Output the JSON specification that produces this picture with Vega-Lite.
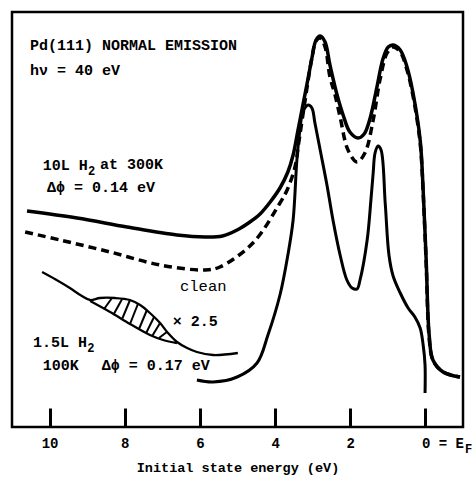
{
  "$schema": "https://vega.github.io/schema/vega-lite/v6.json",
  "width": 451,
  "height": 415,
  "autosize": {"type": "none"},
  "padding": {"left": 12, "top": 12, "right": 12, "bottom": 50},
  "background": "white",
  "config": {
    "view": {"stroke": "black", "strokeWidth": 2.5},
    "text": {"font": "Liberation Mono", "fontWeight": "bold", "fontSize": 15, "align": "left", "baseline": "middle", "color": "black"}
  },
  "datasets": {
    "curves": [
      {"s": "h300", "i": 1, "E": 10.60, "I": 216}, {"s": "h300", "i": 2, "E": 9.27, "I": 209}, {"s": "h300", "i": 3, "E": 7.94, "I": 200}, {"s": "h300", "i": 4, "E": 6.61, "I": 192}, {"s": "h300", "i": 5, "E": 5.86, "I": 190}, {"s": "h300", "i": 6, "E": 5.40, "I": 191}, {"s": "h300", "i": 7, "E": 5.01, "I": 197}, {"s": "h300", "i": 8, "E": 4.67, "I": 205}, {"s": "h300", "i": 9, "E": 4.40, "I": 213}, {"s": "h300", "i": 10, "E": 4.13, "I": 225}, {"s": "h300", "i": 11, "E": 3.87, "I": 239}, {"s": "h300", "i": 12, "E": 3.66, "I": 255}, {"s": "h300", "i": 13, "E": 3.52, "I": 272}, {"s": "h300", "i": 14, "E": 3.39, "I": 297}, {"s": "h300", "i": 15, "E": 3.26, "I": 322}, {"s": "h300", "i": 16, "E": 3.12, "I": 349}, {"s": "h300", "i": 17, "E": 3.02, "I": 369}, {"s": "h300", "i": 18, "E": 2.91, "I": 387}, {"s": "h300", "i": 19, "E": 2.80, "I": 391}, {"s": "h300", "i": 20, "E": 2.67, "I": 385}, {"s": "h300", "i": 21, "E": 2.54, "I": 362}, {"s": "h300", "i": 22, "E": 2.35, "I": 332}, {"s": "h300", "i": 23, "E": 2.19, "I": 312}, {"s": "h300", "i": 24, "E": 2.01, "I": 295}, {"s": "h300", "i": 25, "E": 1.79, "I": 289}, {"s": "h300", "i": 26, "E": 1.63, "I": 293}, {"s": "h300", "i": 27, "E": 1.47, "I": 309}, {"s": "h300", "i": 28, "E": 1.29, "I": 340}, {"s": "h300", "i": 29, "E": 1.13, "I": 368}, {"s": "h300", "i": 30, "E": 0.99, "I": 380}, {"s": "h300", "i": 31, "E": 0.86, "I": 382}, {"s": "h300", "i": 32, "E": 0.67, "I": 377}, {"s": "h300", "i": 33, "E": 0.49, "I": 360}, {"s": "h300", "i": 34, "E": 0.33, "I": 334}, {"s": "h300", "i": 35, "E": 0.14, "I": 287}, {"s": "h300", "i": 36, "E": 0.06, "I": 237}, {"s": "h300", "i": 37, "E": -0.02, "I": 167}, {"s": "h300", "i": 38, "E": -0.10, "I": 92}, {"s": "h300", "i": 39, "E": -0.20, "I": 67}, {"s": "h300", "i": 40, "E": -0.47, "I": 55}, {"s": "h300", "i": 41, "E": -0.92, "I": 50},

      {"s": "clean", "i": 1, "E": 10.65, "I": 195}, {"s": "clean", "i": 2, "E": 9.72, "I": 187}, {"s": "clean", "i": 3, "E": 8.39, "I": 175}, {"s": "clean", "i": 4, "E": 7.06, "I": 162}, {"s": "clean", "i": 5, "E": 5.86, "I": 157}, {"s": "clean", "i": 6, "E": 5.47, "I": 160}, {"s": "clean", "i": 7, "E": 4.59, "I": 184}, {"s": "clean", "i": 8, "E": 3.87, "I": 224}, {"s": "clean", "i": 9, "E": 3.68, "I": 237}, {"s": "clean", "i": 10, "E": 3.47, "I": 260}, {"s": "clean", "i": 11, "E": 3.36, "I": 287}, {"s": "clean", "i": 12, "E": 3.20, "I": 327}, {"s": "clean", "i": 13, "E": 3.02, "I": 369}, {"s": "clean", "i": 14, "E": 2.91, "I": 386}, {"s": "clean", "i": 15, "E": 2.80, "I": 389}, {"s": "clean", "i": 16, "E": 2.67, "I": 380}, {"s": "clean", "i": 17, "E": 2.54, "I": 350}, {"s": "clean", "i": 18, "E": 2.41, "I": 333}, {"s": "clean", "i": 19, "E": 2.27, "I": 310}, {"s": "clean", "i": 20, "E": 2.06, "I": 277}, {"s": "clean", "i": 21, "E": 1.82, "I": 265}, {"s": "clean", "i": 22, "E": 1.61, "I": 274}, {"s": "clean", "i": 23, "E": 1.39, "I": 307}, {"s": "clean", "i": 24, "E": 1.21, "I": 347}, {"s": "clean", "i": 25, "E": 1.02, "I": 374}, {"s": "clean", "i": 26, "E": 0.86, "I": 380}, {"s": "clean", "i": 27, "E": 0.67, "I": 375}, {"s": "clean", "i": 28, "E": 0.49, "I": 357}, {"s": "clean", "i": 29, "E": 0.33, "I": 331}, {"s": "clean", "i": 30, "E": 0.14, "I": 284}, {"s": "clean", "i": 31, "E": 0.06, "I": 234}, {"s": "clean", "i": 32, "E": -0.02, "I": 164}, {"s": "clean", "i": 33, "E": -0.10, "I": 89}, {"s": "clean", "i": 34, "E": -0.20, "I": 67}, {"s": "clean", "i": 35, "E": -0.47, "I": 55}, {"s": "clean", "i": 36, "E": -0.92, "I": 50},

      {"s": "h100", "i": 1, "E": 6.08, "I": 47}, {"s": "h100", "i": 2, "E": 5.65, "I": 45}, {"s": "h100", "i": 3, "E": 5.01, "I": 50}, {"s": "h100", "i": 4, "E": 4.48, "I": 64}, {"s": "h100", "i": 5, "E": 4.19, "I": 92}, {"s": "h100", "i": 6, "E": 3.87, "I": 132}, {"s": "h100", "i": 7, "E": 3.66, "I": 172}, {"s": "h100", "i": 8, "E": 3.52, "I": 207}, {"s": "h100", "i": 9, "E": 3.42, "I": 267}, {"s": "h100", "i": 10, "E": 3.34, "I": 297}, {"s": "h100", "i": 11, "E": 3.26, "I": 315}, {"s": "h100", "i": 12, "E": 3.12, "I": 322}, {"s": "h100", "i": 13, "E": 3.02, "I": 319}, {"s": "h100", "i": 14, "E": 2.94, "I": 304}, {"s": "h100", "i": 15, "E": 2.80, "I": 277}, {"s": "h100", "i": 16, "E": 2.62, "I": 242}, {"s": "h100", "i": 17, "E": 2.46, "I": 207}, {"s": "h100", "i": 18, "E": 2.27, "I": 172}, {"s": "h100", "i": 19, "E": 2.09, "I": 147}, {"s": "h100", "i": 20, "E": 1.95, "I": 139}, {"s": "h100", "i": 21, "E": 1.82, "I": 138}, {"s": "h100", "i": 22, "E": 1.74, "I": 147}, {"s": "h100", "i": 23, "E": 1.55, "I": 187}, {"s": "h100", "i": 24, "E": 1.45, "I": 227}, {"s": "h100", "i": 25, "E": 1.39, "I": 254}, {"s": "h100", "i": 26, "E": 1.34, "I": 274}, {"s": "h100", "i": 27, "E": 1.26, "I": 281}, {"s": "h100", "i": 28, "E": 1.18, "I": 277}, {"s": "h100", "i": 29, "E": 1.07, "I": 224}, {"s": "h100", "i": 30, "E": 0.97, "I": 172}, {"s": "h100", "i": 31, "E": 0.86, "I": 151}, {"s": "h100", "i": 32, "E": 0.67, "I": 134}, {"s": "h100", "i": 33, "E": 0.46, "I": 119}, {"s": "h100", "i": 34, "E": 0.28, "I": 110}, {"s": "h100", "i": 35, "E": 0.14, "I": 99}, {"s": "h100", "i": 36, "E": 0.06, "I": 82}, {"s": "h100", "i": 37, "E": 0.01, "I": 62}, {"s": "h100", "i": 38, "E": 0.01, "I": 34},

      {"s": "diff", "i": 1, "E": 10.20, "I": 155}, {"s": "diff", "i": 2, "E": 9.86, "I": 148}, {"s": "diff", "i": 3, "E": 9.46, "I": 139}, {"s": "diff", "i": 4, "E": 9.14, "I": 131}, {"s": "diff", "i": 5, "E": 8.92, "I": 127}, {"s": "diff", "i": 6, "E": 8.66, "I": 129}, {"s": "diff", "i": 7, "E": 8.26, "I": 129}, {"s": "diff", "i": 8, "E": 7.86, "I": 127}, {"s": "diff", "i": 9, "E": 7.59, "I": 122}, {"s": "diff", "i": 10, "E": 7.33, "I": 114}, {"s": "diff", "i": 11, "E": 7.06, "I": 104}, {"s": "diff", "i": 12, "E": 6.85, "I": 94}, {"s": "diff", "i": 13, "E": 6.61, "I": 85}, {"s": "diff", "i": 14, "E": 6.34, "I": 79}, {"s": "diff", "i": 15, "E": 6.08, "I": 75}, {"s": "diff", "i": 16, "E": 5.65, "I": 72}, {"s": "diff", "i": 17, "E": 4.99, "I": 74},

      {"s": "base", "i": 1, "E": 8.92, "I": 126}, {"s": "base", "i": 2, "E": 8.39, "I": 115}, {"s": "base", "i": 3, "E": 7.86, "I": 103}, {"s": "base", "i": 4, "E": 7.33, "I": 92}, {"s": "base", "i": 5, "E": 6.98, "I": 87}, {"s": "base", "i": 6, "E": 6.61, "I": 84}
    ],
    "hatch": [
      {"E": 8.34, "I": 129, "E2": 8.55, "I2": 118},
      {"E": 8.07, "I": 128, "E2": 8.29, "I2": 113},
      {"E": 7.86, "I": 127, "E2": 8.07, "I2": 108},
      {"E": 7.65, "I": 123, "E2": 7.86, "I2": 103},
      {"E": 7.41, "I": 117, "E2": 7.62, "I2": 98},
      {"E": 7.22, "I": 110, "E2": 7.43, "I2": 94},
      {"E": 7.06, "I": 104, "E2": 7.27, "I2": 91},
      {"E": 6.88, "I": 95, "E2": 7.09, "I2": 89}
    ],
    "notes": [
      {"kind": "main", "E": 10.52, "I": 382, "text": "Pd(111) NORMAL EMISSION"},
      {"kind": "main", "E": 10.52, "I": 357, "text": "hν = 40 eV"},
      {"kind": "main", "E": 10.18, "I": 262, "text": "10L H"},
      {"kind": "sub", "E": 8.98, "I": 256, "text": "2"},
      {"kind": "main", "E": 8.66, "I": 263, "text": "at 300K"},
      {"kind": "main", "E": 10.07, "I": 240, "text": "Δϕ = 0.14 eV"},
      {"kind": "plain", "E": 6.53, "I": 141, "text": "clean"},
      {"kind": "main", "E": 6.72, "I": 106, "text": "× 2.5"},
      {"kind": "main", "E": 10.44, "I": 85, "text": "1.5L H"},
      {"kind": "sub", "E": 9.00, "I": 79, "text": "2"},
      {"kind": "main", "E": 10.18, "I": 62, "text": "100K"},
      {"kind": "main", "E": 8.61, "I": 62, "text": "Δϕ = 0.17 eV"},
      {"kind": "sub", "E": -1.05, "I": -22, "text": "F"}
    ]
  },
  "encoding": {
    "x": {
      "field": "E", "type": "quantitative",
      "scale": {"domain": [-1, 11], "reverse": true, "nice": false, "zero": false},
      "axis": {
        "values": [10, 8, 6, 4, 2, 0],
        "domain": false, "grid": false,
        "tickSize": -19, "tickWidth": 3, "tickColor": "black",
        "labelFont": "Liberation Mono", "labelFontWeight": "bold", "labelFontSize": 14, "labelColor": "black",
        "labelPadding": 28, "labelOverlap": false, "labelFlush": false,
        "labelExpr": "datum.value === 0 ? '0 = E' : datum.label",
        "labelAlign": {"condition": {"test": "datum.value === 0", "value": "left"}, "value": "center"},
        "labelOffset": {"condition": {"test": "datum.value === 0", "value": -4}, "value": 0},
        "title": "Initial state energy (eV)",
        "titleFont": "Liberation Mono", "titleFontWeight": "bold", "titleFontSize": 13.5, "titleColor": "black",
        "titlePadding": 10
      }
    },
    "y": {
      "field": "I", "type": "quantitative",
      "scale": {"domain": [0, 415], "nice": false, "zero": false},
      "axis": null
    }
  },
  "layer": [
    {
      "data": {"name": "curves"},
      "transform": [{"filter": "datum.s === 'h300'"}],
      "mark": {"type": "line", "interpolate": "catmull-rom", "color": "black", "strokeWidth": 3.5},
      "encoding": {"order": {"field": "i", "type": "quantitative"}}
    },
    {
      "data": {"name": "curves"},
      "transform": [{"filter": "datum.s === 'clean'"}],
      "mark": {"type": "line", "interpolate": "catmull-rom", "color": "black", "strokeWidth": 3.5, "strokeDash": [8, 5]},
      "encoding": {"order": {"field": "i", "type": "quantitative"}}
    },
    {
      "data": {"name": "curves"},
      "transform": [{"filter": "datum.s === 'h100'"}],
      "mark": {"type": "line", "interpolate": "catmull-rom", "color": "black", "strokeWidth": 3},
      "encoding": {"order": {"field": "i", "type": "quantitative"}}
    },
    {
      "data": {"name": "curves"},
      "transform": [{"filter": "datum.s === 'diff' || datum.s === 'base'"}],
      "mark": {"type": "line", "interpolate": "catmull-rom", "color": "black", "strokeWidth": 2.3},
      "encoding": {"order": {"field": "i", "type": "quantitative"}, "detail": {"field": "s"}}
    },
    {
      "data": {"name": "hatch"},
      "mark": {"type": "rule", "color": "black", "strokeWidth": 2},
      "encoding": {"x2": {"field": "E2"}, "y2": {"field": "I2"}}
    },
    {
      "data": {"name": "notes"},
      "transform": [{"filter": "datum.kind === 'main'"}],
      "mark": {"type": "text"},
      "encoding": {"text": {"field": "text"}}
    },
    {
      "data": {"name": "notes"},
      "transform": [{"filter": "datum.kind === 'plain'"}],
      "mark": {"type": "text", "fontWeight": "normal", "fontSize": 15.5},
      "encoding": {"text": {"field": "text"}}
    },
    {
      "data": {"name": "notes"},
      "transform": [{"filter": "datum.kind === 'sub'"}],
      "mark": {"type": "text", "fontSize": 12},
      "encoding": {"text": {"field": "text"}}
    }
  ]
}
